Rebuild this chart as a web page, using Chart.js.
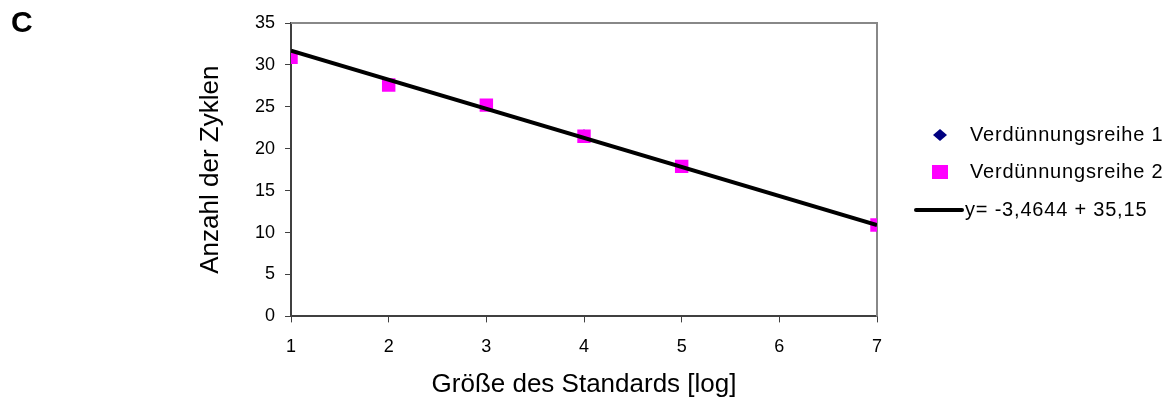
<!DOCTYPE html>
<html>
<head>
<meta charset="utf-8">
<script src="https://cdn.jsdelivr.net/npm/chart.js@4/dist/chart.umd.min.js"></script>
<style>
  html, body { margin: 0; padding: 0; background: #fff; }
  #wrap { position: relative; width: 1171px; height: 401px; }
  #panel { position: absolute; left: 11px; top: 5px; font: bold 30px "Liberation Sans", Arial, sans-serif; }
</style>
</head>
<body>
<div id="wrap">
  <div id="panel">C</div>
  <canvas id="kurve"></canvas>
</div>
<script>
// Verdünnungsreihen (x = log Standard, y = Zyklen)
var reihe1X = [1, 2, 3, 4, 5, 7];
var reihe1Y = [31.0, 27.6, 25.2, 21.6, 17.9, 10.8];
var reihe2X = [1, 2, 3, 4, 5, 7];
var reihe2Y = [30.9, 27.6, 25.2, 21.5, 17.9, 10.9];
var trendX = [1, 7];
var trendY = [31.69, 10.90];
var legendText = ['Verdünnungsreihe 1', 'Verdünnungsreihe 2', 'y= -3,4644 + 35,15'];

function toPoints(xs, ys) {
  return xs.map(function (x, i) { return { x: x, y: ys[i] }; });
}

var schrift = '"Liberation Sans", Arial, sans-serif';

// grauer Rahmen um die Zeichenfläche
var rahmen = {
  id: 'rahmen',
  beforeDatasetsDraw: function (chart) {
    var a = chart.chartArea, ctx = chart.ctx;
    ctx.save();
    ctx.strokeStyle = '#888888';
    ctx.lineWidth = 2;
    ctx.beginPath();
    ctx.moveTo(a.left, a.top);
    ctx.lineTo(a.right, a.top);
    ctx.lineTo(a.right, a.bottom);
    ctx.stroke();
    ctx.restore();
  }
};

// Legende rechts neben dem Diagramm
var legende = {
  id: 'legende',
  afterDraw: function (chart) {
    var ctx = chart.ctx;
    var x0 = 940, ys = [135, 172, 210];
    ctx.save();
    ctx.font = '20px ' + schrift;
    ctx.letterSpacing = '0.8px';
    ctx.textBaseline = 'middle';
    // Raute
    ctx.fillStyle = '#000080';
    ctx.beginPath();
    ctx.moveTo(x0, ys[0] - 6);
    ctx.lineTo(x0 + 7, ys[0]);
    ctx.lineTo(x0, ys[0] + 6);
    ctx.lineTo(x0 - 7, ys[0]);
    ctx.closePath();
    ctx.fill();
    // Quadrat
    ctx.fillStyle = '#ff00ff';
    ctx.fillRect(x0 - 8, ys[1] - 7, 16, 14);
    // Linie
    ctx.strokeStyle = '#000';
    ctx.lineWidth = 4;
    ctx.lineCap = 'round';
    ctx.beginPath();
    ctx.moveTo(916, ys[2]);
    ctx.lineTo(962, ys[2]);
    ctx.stroke();
    ctx.fillStyle = '#000';
    ctx.fillText(legendText[0], 970, ys[0]);
    ctx.fillText(legendText[1], 970, ys[1]);
    ctx.fillText(legendText[2], 965, ys[2]);
    ctx.restore();
  }
};

var ctxK = document.getElementById('kurve').getContext('2d');
var kurve = new Chart(ctxK, {
  type: 'scatter',
  data: {
    datasets: [{
      label: legendText[2],
      type: 'line',
      data: toPoints(trendX, trendY),
      borderColor: '#000',
      borderWidth: 4,
      pointRadius: 0,
      fill: false,
      order: 0
    }, {
      label: legendText[1],
      data: toPoints(reihe2X, reihe2Y),
      pointStyle: 'rect',
      pointRadius: 9.5,
      backgroundColor: '#ff00ff',
      borderColor: '#ff00ff',
      borderWidth: 0,
      order: 1
    }, {
      label: legendText[0],
      data: toPoints(reihe1X, reihe1Y),
      pointStyle: 'rectRot',
      pointRadius: 6,
      backgroundColor: '#000080',
      borderColor: '#000080',
      borderWidth: 0,
      order: 2
    }]
  },
  options: {
    responsive: true,
    maintainAspectRatio: false,
    animation: false,
    layout: { padding: { left: 198, right: 294, top: 23, bottom: 3 } },
    plugins: {
      legend: { display: false },
      tooltip: { enabled: false }
    },
    scales: {
      x: {
        type: 'linear',
        min: 1,
        max: 7,
        ticks: { stepSize: 1, color: '#000', font: { family: schrift, size: 18 }, padding: 14 },
        grid: { drawOnChartArea: false, tickLength: 6, color: '#404040' },
        border: { color: '#404040', width: 2 },
        title: { display: true, text: 'Größe des Standards [log]', color: '#000', font: { family: schrift, size: 26, lineHeight: 1 }, padding: 0 }
      },
      y: {
        min: 0,
        max: 35,
        ticks: { stepSize: 5, color: '#000', font: { family: schrift, size: 18 }, padding: 10 },
        grid: { drawOnChartArea: false, tickLength: 6, color: '#404040' },
        border: { color: '#404040', width: 2 },
        title: { display: true, text: 'Anzahl der Zyklen', color: '#000', font: { family: schrift, size: 26, lineHeight: 1 }, padding: { top: 0, bottom: 21 } }
      }
    }
  },
  plugins: [rahmen, legende]
});
</script>
</body>
</html>
